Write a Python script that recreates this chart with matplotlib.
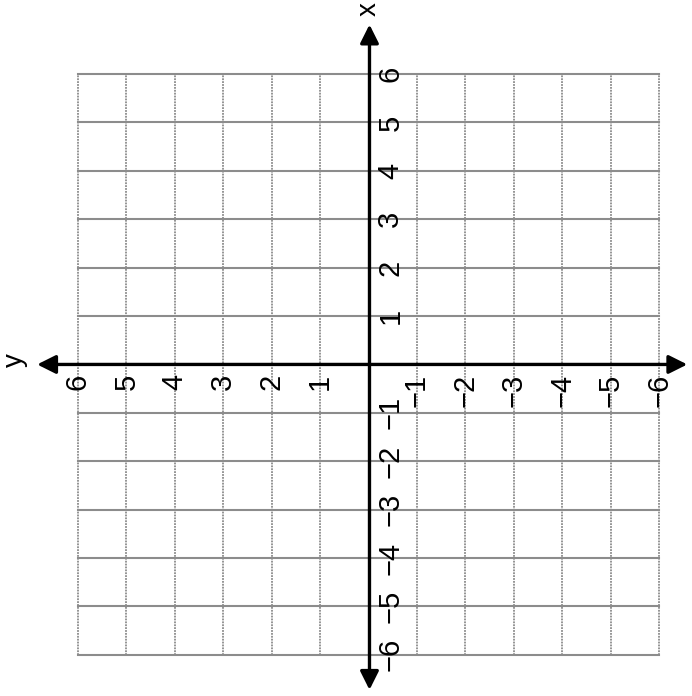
import matplotlib
matplotlib.use("Agg")
import matplotlib.pyplot as plt
import numpy as np

# the scanned page is turned a quarter turn: x axis points up, y axis points left
pos_ticks = [1, 2, 3, 4, 5, 6]
neg_ticks = [-1, -2, -3, -4, -5, -6]
x_pos_labels = ["1", "2", "3", "4", "5", "6"]
x_neg_labels = ["−1", "−2", "−3", "−4", "−5", "−6"]
y_pos_labels = ["1", "2", "3", "4", "5", "6"]
y_neg_labels = ["−1", "−2", "−3", "−4", "−5", "−6"]
grid_range = np.arange(-6, 7)

plt.rcParams['font.family'] = ['Liberation Sans', 'DejaVu Sans']

fig = plt.figure(figsize=(6.92, 6.96), dpi=100)
ax = fig.add_axes([0, 0, 1, 1])
ax.set_xlim(-7.61, 6.68)
ax.set_ylim(-6.85, 7.53)
ax.axis('off')

gray = '#8c8c8c'
for g in grid_range:
    ax.plot([g, g], [-6, 6], color=gray, lw=1.3, ls=(0, (1, 0.6)), zorder=1)
    ax.plot([-6, 6], [g, g], color=gray, lw=1.5, zorder=1)

# axes with arrow heads
ax.annotate('', xy=(0.02, 7.08), xytext=(0.02, -6.78),
            arrowprops=dict(arrowstyle='<|-|>', lw=2.4, color='k', mutation_scale=28), zorder=3)
ax.annotate('', xy=(-6.9, 0), xytext=(6.64, 0),
            arrowprops=dict(arrowstyle='<|-|>', lw=2.4, color='k', mutation_scale=28), zorder=3)

ax.text(0.0, 7.35, "x", fontsize=20, rotation=90, ha='center', va='center')
ax.text(-7.3, 0.1, "y", fontsize=20, rotation=90, ha='center', va='center')

fs = 21
# x axis (vertical) labels, right of the axis
for t, lab in zip(pos_ticks, x_pos_labels):
    ax.text(0.45, t, lab, fontsize=fs, rotation=90, ha='center', va='center', zorder=4)
for t, lab in zip(neg_ticks, x_neg_labels):
    ax.text(0.45, t, lab, fontsize=fs, rotation=90, ha='center', va='center', zorder=4)

# y axis (horizontal) labels, below the axis; positive y is to the left
for t, lab in zip(pos_ticks, y_pos_labels):
    ax.text(-t, -0.2, lab, fontsize=fs, rotation=90, ha='center', va='top', zorder=4)
for t, lab in zip(neg_ticks, y_neg_labels):
    ax.text(-t, -0.2, lab, fontsize=fs, rotation=90, ha='center', va='top', zorder=4)

fig.savefig("out.png", dpi=100)
